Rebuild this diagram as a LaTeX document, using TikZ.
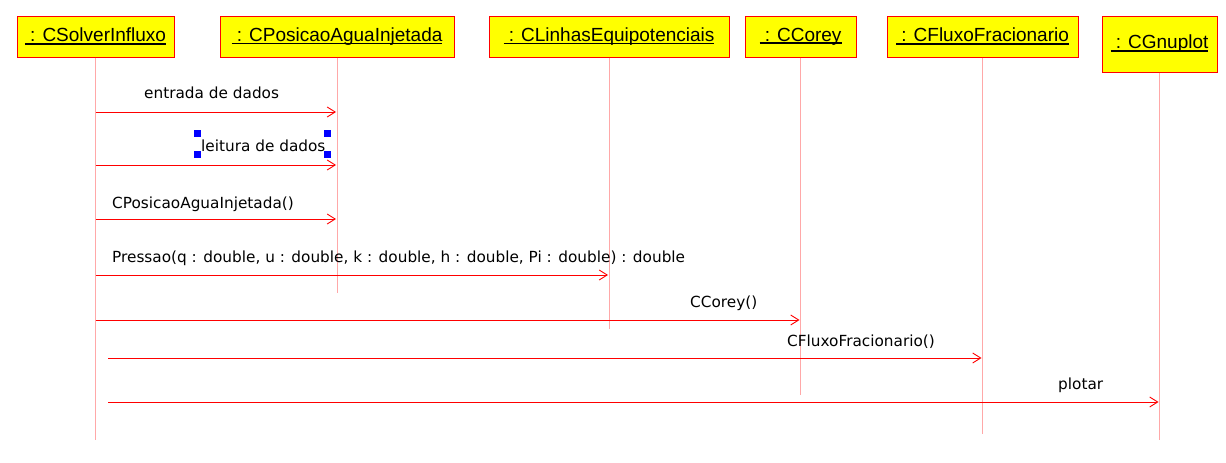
\documentclass[tikz,border=0pt]{standalone}
\usepackage{fontspec}
\setmainfont{DejaVu Sans}
\newfontfamily\boxfont{Liberation Sans}
\usetikzlibrary{positioning,arrows.meta}

\definecolor{objfill}{HTML}{FFFF00}
\definecolor{objline}{HTML}{FF0000}
\definecolor{lifeline}{HTML}{FFA8A8}
\newcommand\ulbl[1]{\setbox0\hbox{#1}\rlap{\rule[-3pt]{\wd0}{1.8pt}}\box0}

\begin{document}
\begin{tikzpicture}[x=1pt,y=-1pt,on grid,
   obj/.style={draw=objline,fill=objfill,line width=1pt,minimum height=41pt,inner sep=0pt,font=\boxfont\fontsize{19}{22}\selectfont},
   life/.style={draw=lifeline,line width=0.8pt},
   msg/.style={draw=objline,line width=0.9pt,-{Straight Barb[length=8pt,width=10pt]},shorten >=1pt},
   lbl/.style={font=\fontsize{15.3}{18}\selectfont,inner sep=0pt,anchor=base west},
   handle/.style={fill=blue,minimum size=7pt,inner sep=0pt}]
   \useasboundingbox (0,0) rectangle (1226,463);
   \node[obj,minimum width=157pt] (solver) at (95.5,36.5) {\ulbl{\ : CSolverInfluxo}};
   \node[obj,minimum width=234pt] (posicao) [right=241.5pt of solver] {\ulbl{\ : CPosicaoAguaInjetada}};
   \node[obj,minimum width=240pt] (linhas) [right=272pt of posicao] {\ulbl{\ : CLinhasEquipotenciais}};
   \node[obj,minimum width=111pt] (corey) [right=191.5pt of linhas] {\ulbl{\ : CCorey}};
   \node[obj,minimum width=191pt] (fluxo) [right=182pt of corey] {\ulbl{\ : CFluxoFracionario}};
   \node[obj,minimum width=115pt,minimum height=56pt] (gnuplot) [right=177pt of fluxo,yshift=-7.5pt] {\ulbl{\ : CGnuplot}};

   % lifelines
   \draw[life] (solver.south) -- (solver |- 0,440);
   \draw[life] (posicao.south) -- (posicao |- 0,293);
   \draw[life] (linhas.south) -- (linhas |- 0,329);
   \draw[life] (corey.south) -- (corey |- 0,395);
   \draw[life] (fluxo.south) -- (fluxo |- 0,434);
   \draw[life] (gnuplot.south) -- (gnuplot |- 0,440);
   \coordinate (sstart) at ([xshift=12.5pt]solver.south);

   % messages
   \draw[msg] (solver |- 0,112) -- (posicao |- 0,112);
   \node[lbl] (lentrada) at (144,98) {entrada de dados};
   \draw[msg] (solver |- 0,165) -- (posicao |- 0,165);
   \node[lbl] (lleitura) at (201,151) {leitura de dados};
   \draw[msg] (solver |- 0,219) -- (posicao |- 0,219);
   \node[lbl] (lposicao) at (112,208) {CPosicaoAguaInjetada()};
   \draw[msg] (solver |- 0,275) -- (linhas |- 0,275);
   \node[lbl] (lpressao) at (112,262) {Pressao(q : double, u : double, k : double, h : double, Pi : double) : double};
   \draw[msg] (solver |- 0,320) -- (corey |- 0,320);
   \node[lbl] (lcorey) at (690,307) {CCorey()};
   \draw[msg] (sstart |- 0,358) -- (fluxo |- 0,358);
   \node[lbl] (lfluxo) at (787,346) {CFluxoFracionario()};
   \draw[msg] (sstart |- 0,402) -- (gnuplot |- 0,402);
   \node[lbl] (lplotar) at (1058,389) {plotar};

   % selection handles
   \node[handle] at (197,133.5) {};
   \node[handle] at (327,133.5) {};
   \node[handle] at (197,154) {};
   \node[handle] at (327,154) {};
\end{tikzpicture}
\end{document}
